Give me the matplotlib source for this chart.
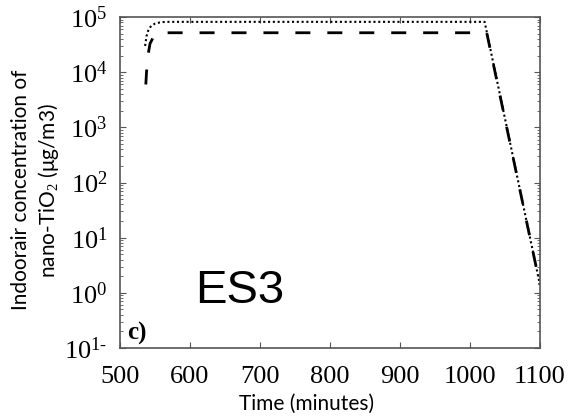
import matplotlib
matplotlib.use("Agg")
import matplotlib.pyplot as plt
from matplotlib.ticker import FixedLocator, FixedFormatter, LogLocator, NullFormatter

plt.rcParams['mathtext.fontset'] = 'custom'
plt.rcParams['mathtext.rm'] = 'Liberation Serif'
plt.rcParams['mathtext.it'] = 'Liberation Serif:italic'
plt.rcParams['mathtext.bf'] = 'Liberation Serif:bold'

# dotted series (upper)
dot_t = [536, 538, 541, 545, 550, 557, 565, 580, 1021, 1100]
dot_c = [3.0e4, 4.5e4, 6.0e4, 7.0e4, 7.6e4, 8.0e4, 8.2e4, 8.2e4, 8.2e4, 1.4]

# dashed series (lower)
dash_t = [537, 538, 540, 543, 548, 555, 562, 1024, 1100]
dash_c = [6.0e3, 1.0e4, 2.0e4, 3.3e4, 4.4e4, 5.0e4, 5.2e4, 5.2e4, 1.4]

xticks = [500, 600, 700, 800, 900, 1000, 1100]
yticks = [1e-1, 1e0, 1e1, 1e2, 1e3, 1e4, 1e5]
ylabels = ['10$^{1\\text{-}}$', '10$^{0}$', '10$^{1}$', '10$^{2}$',
           '10$^{3}$', '10$^{4}$', '10$^{5}$']

fig = plt.figure(figsize=(5.71, 4.17), dpi=100)
ax = fig.add_axes([0.210, 0.1655, 0.7356, 0.7935])

ax.plot(dot_t, dot_c, color='black', linestyle=(0, (1, 1.3)), linewidth=1.5)
ax.plot(dash_t, dash_c, color='black', linestyle=(0, (5.4, 6.1)), linewidth=2.0)

ax.set_yscale('log')
ax.set_xlim(500, 1100)
ax.set_ylim(1e-1, 1e5)

ax.xaxis.set_major_locator(FixedLocator(xticks))
ax.yaxis.set_major_locator(FixedLocator(yticks))
ax.yaxis.set_major_formatter(FixedFormatter(ylabels))
ax.yaxis.set_minor_locator(LogLocator(base=10, subs=range(2, 10)))
ax.yaxis.set_minor_formatter(NullFormatter())

ax.tick_params(which='both', direction='in', top=True, right=True, color='#555555')
ax.tick_params(which='major', length=4, width=0.8, labelsize=19)
ax.tick_params(axis='x', which='major', pad=13)
ax.tick_params(axis='y', which='major', pad=9)
ax.tick_params(which='minor', length=2, width=0.6)
for lab in ax.get_xticklabels() + ax.get_yticklabels():
    lab.set_fontfamily('Liberation Serif')
for sp in ax.spines.values():
    sp.set_color('#555555')
    sp.set_linewidth(1.2)

ax.set_xlabel('Time (minutes)', fontfamily='Lato', fontsize=15)
ax.xaxis.set_label_coords(0.445, -0.139)
ax.set_ylabel('Indoorair concentration of\nnano-TiO$_2$ (μg/m3)', fontfamily='Lato',
              fontsize=15, linespacing=1.25)
ax.yaxis.label.set_va('center')
ax.yaxis.set_label_coords(-0.199, 0.477)

ax.text(0.18, 0.171, 'ES3', transform=ax.transAxes, fontfamily='Liberation Sans',
        fontsize=34, ha='left', va='center')
ax.text(0.018, 0.01, 'c)', transform=ax.transAxes, fontfamily='Liberation Serif',
        fontweight='bold', fontsize=18, ha='left', va='bottom')

fig.savefig('out.png', dpi=100)
